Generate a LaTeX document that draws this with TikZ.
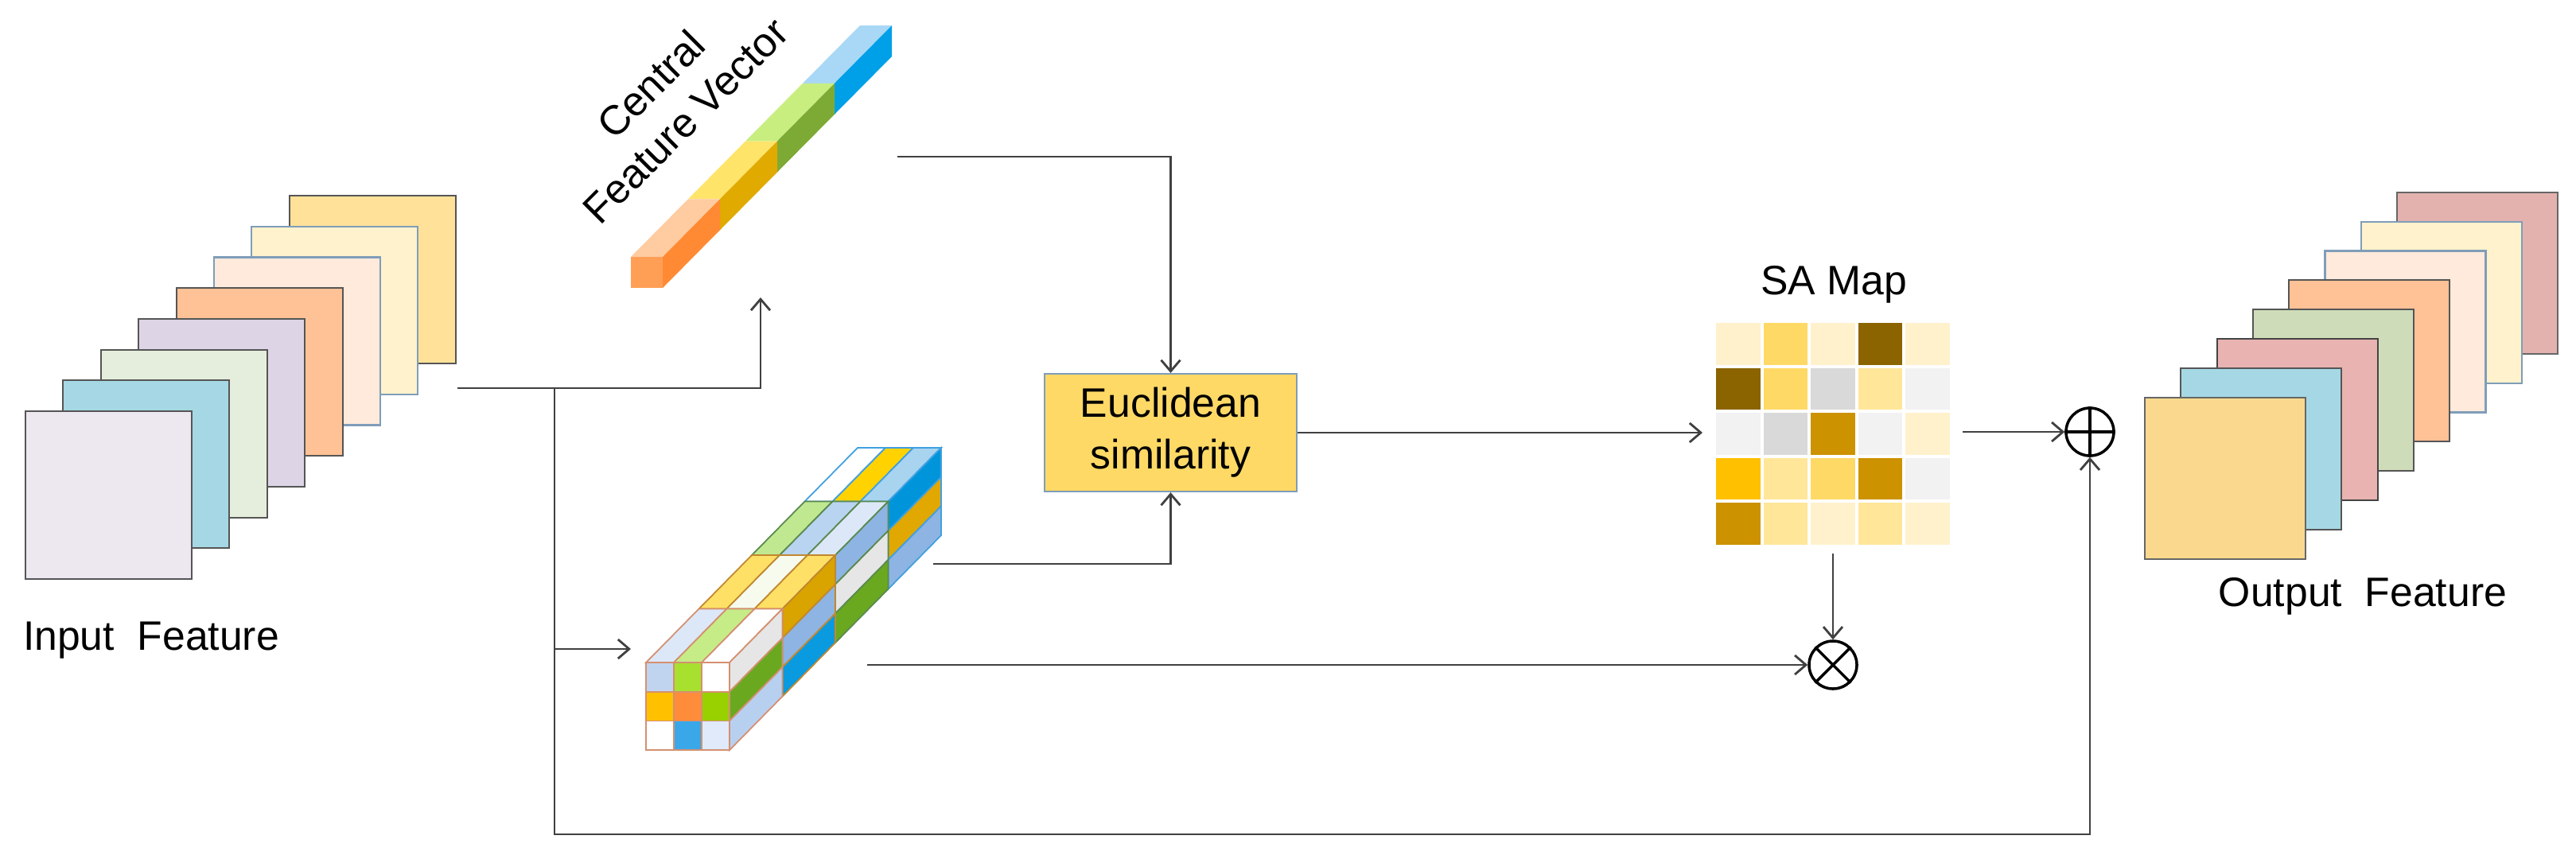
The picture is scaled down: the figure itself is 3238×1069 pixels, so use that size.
\documentclass[tikz,border=0pt]{standalone}
\usepackage{fontspec}
\setmainfont{Liberation Sans}
\usetikzlibrary{arrows.meta}
\begin{document}
\begin{tikzpicture}[x=0.01cm,y=-0.01cm,
  lbl/.style={font=\fontsize{14.7}{18.5}\selectfont,inner sep=0pt,align=center},
  conn/.style={draw=black!75,line width=0.8pt},
  arr/.style={conn,-{Straight Barb[length=0.14cm,width=0.24cm]}},
  opnode/.style={circle,draw=black,line width=1pt,minimum size=0.6cm,inner sep=0pt}]
\useasboundingbox (0,0) rectangle (3238,1069);
% ---------- input feature sheets ----------
\foreach \i/\col/\bd in {7/FFE199/555555,6/FFF2CC/7F9DB9,5/FFEADB/7F9DB9,4/FFC196/555555,3/DDD5E6/555555,2/E5EEDC/555555,1/A5D8E4/555555,0/EDE8F0/555555}{
  \definecolor{fc}{HTML}{\col}\definecolor{bc}{HTML}{\bd}
  \fill[fc,draw=bc,line width=0.6pt] ({32+47.4*\i},{517-38.7*\i}) rectangle ++(209,211);
}
\node[lbl] (inlbl) at (190,805) {Input~~Feature};
% ---------- output feature sheets ----------
\foreach \i/\col/\bd in {7/E3B2AE/666666,6/FFF2CC/7F9DB9,5/FFEADB/7F9DB9,4/FFC196/555555,3/CFDCB9/555555,2/E8B3B0/444444,1/A5D8E4/555555,0/FAD98E/666666}{
  \definecolor{fc}{HTML}{\col}\definecolor{bc}{HTML}{\bd}
  \fill[fc,draw=bc,line width=0.6pt] ({2696+45.3*\i},{500-36.9*\i}) rectangle ++(202,203);
}
\node[lbl] (outlbl) at (2970,750) {Output~~Feature};
% ---------- central feature vector ----------
\foreach \k/\tp/\sd in {3/A8D8F5/00A0E8,2/C8EE80/7DAA35,1/FFE46A/E0AA00,0/FFCBA0/FF8A33}{
  \definecolor{tc}{HTML}{\tp}\definecolor{sc}{HTML}{\sd}
  \fill[tc] ({793+72*\k},{323-72.75*\k}) -- ({833+72*\k},{323-72.75*\k}) -- ({833+72*(\k+1)},{323-72.75*(\k+1)}) -- ({793+72*(\k+1)},{323-72.75*(\k+1)}) -- cycle;
  \fill[sc] ({833+72*\k},{323-72.75*\k}) -- ({833+72*(\k+1)},{323-72.75*(\k+1)}) -- ({833+72*(\k+1)},{362-72.75*(\k+1)}) -- ({833+72*\k},{362-72.75*\k}) -- cycle;
}
\fill[color={rgb,255:red,255;green,159;blue,85}] (793,323) rectangle (833,362);
\node[lbl,rotate=45] (cfvlbl1) at (818,106) {Central};
\node[lbl,rotate=45] (cfvlbl2) at (862,152) {Feature Vector};
% ---------- feature cube ----------
\foreach \k/\ta/\tb/\tcc/\sa/\sb/\scc/\ed in {
 3/FFFFFF/FFD200/A8D4F0/0095DA/E0A800/8DB4E2/40A0E0,
 2/C0E890/B8D4F0/DCE8F8/8DB4E2/E6E6E6/6AA820/5A8A50,
 1/FFE066/F6FBEE/FFE066/D9A300/8DB4E2/0A9AE0/C08830,
 0/DCE8F8/C6EC88/FFFFFF/E6E6E6/6AA820/B8D0F0/D49070}{
  \definecolor{ec}{HTML}{\ed}
  \foreach \c/\cl in {0/\ta,1/\tb,2/\tcc}{
    \definecolor{tmpc}{HTML}{\cl}
    \filldraw[fill=tmpc,draw=ec,line width=0.5pt] ({812+35*\c+66.5*\k},{833-67.5*\k}) -- ({847+35*\c+66.5*\k},{833-67.5*\k}) -- ({847+35*\c+66.5*(\k+1)},{833-67.5*(\k+1)}) -- ({812+35*\c+66.5*(\k+1)},{833-67.5*(\k+1)}) -- cycle;
  }
  \foreach \r/\cl in {0/\sa,1/\sb,2/\scc}{
    \definecolor{tmpc}{HTML}{\cl}
    \filldraw[fill=tmpc,draw=ec,line width=0.5pt] ({917+66.5*\k},{833+36.7*\r-67.5*\k}) -- ({917+66.5*(\k+1)},{833+36.7*\r-67.5*(\k+1)}) -- ({917+66.5*(\k+1)},{869.7+36.7*\r-67.5*(\k+1)}) -- ({917+66.5*\k},{869.7+36.7*\r-67.5*\k}) -- cycle;
  }
}
\definecolor{ec}{HTML}{D49070}
\foreach \r/\a/\b/\c in {0/C0D4F0/A8E030/FFFFFF,1/FFC000/FF8C3A/99D000,2/FFFFFF/3AA8E8/E0EAFA}{
  \foreach \cc/\cl in {0/\a,1/\b,2/\c}{
    \definecolor{tmpc}{HTML}{\cl}
    \filldraw[fill=tmpc,draw=ec,line width=0.5pt] ({812+35*\cc},{833+36.7*\r}) rectangle ++(35,36.7);
  }
}
% ---------- Euclidean similarity ----------
\node[lbl,draw={rgb,255:red,127;green,157;blue,185},fill={rgb,255:red,255;green,217;blue,102},line width=0.6pt,minimum width=3.17cm,minimum height=1.48cm] (euc) at (1471.5,544) {Euclidean\\similarity};
% ---------- SA map ----------
\foreach \r/\a/\b/\c/\d/\e in {0/FFF1CC/FFD966/FFF1CC/8B6400/FFF1CC,1/8B6400/FFD966/D9D9D9/FFE699/F2F2F2,2/F2F2F2/D9D9D9/CC9200/F2F2F2/FFF1CC,3/FFC000/FFE699/FFD966/CC9200/F2F2F2,4/CC9200/FFE699/FFF1CC/FFE699/FFF1CC}{
  \foreach \cc/\cl in {0/\a,1/\b,2/\c,3/\d,4/\e}{
    \definecolor{tmpc}{HTML}{\cl}
    \fill[tmpc] ({2155+59.6*\cc+2},{404+56.6*\r+2}) rectangle ++(55.6,52.6);
  }
}
\node[minimum width=2.98cm,minimum height=2.83cm,inner sep=0pt] (sa) at (2304,545.5) {};
\node[lbl] (salbl) at (2305,358) {SA Map};
% ---------- operators ----------
\node[opnode] (plus) at (2627,543) {};
\draw[line width=1pt] (plus.north)--(plus.south) (plus.west)--(plus.east);
\node[opnode] (times) at (2304,836) {};
\draw[line width=1pt] (times.45)--(times.225) (times.135)--(times.315);
% ---------- connectors ----------
\coordinate (inR) at (575,488);
\coordinate (cfvIn) at (956,374);
\coordinate (br) at (697,488);
\coordinate (brDown) at (697,1049);
\coordinate (cubeIn) at (793,816);
\coordinate (cubeInS) at (697,816);
\coordinate (cfvOut) at (1128,197);
\coordinate (cubeOut) at (1173,709);
\coordinate (cubeOut2) at (1090,836);
\coordinate (saIn) at (2140,544);
\coordinate (saOut) at (2467,543);
\coordinate (saDown) at (2304,696);
\draw[arr] (inR) -| (cfvIn);
\draw[arr] (br) -- (brDown) -| (plus.south);
\draw[arr] (cubeInS) -- (cubeIn);
\draw[arr] (cfvOut) -| (euc.north);
\draw[arr] (cubeOut) -| (euc.south);
\draw[arr] (euc.east) -- (saIn);
\draw[arr] (saOut) -- (plus.west);
\draw[arr] (saDown) -- (times.north);
\draw[arr] (cubeOut2) -- (times.west);
\end{tikzpicture}
\end{document}
